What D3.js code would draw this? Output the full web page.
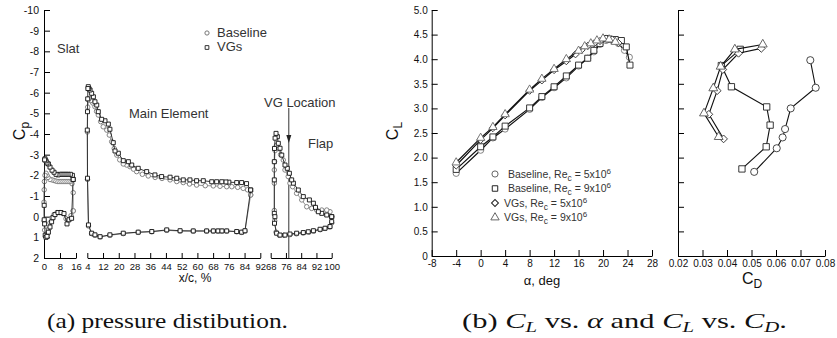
<!DOCTYPE html>
<html>
<head>
<meta charset="utf-8">
<script src="https://cdn.jsdelivr.net/npm/d3@7"></script>
<style>
  body { margin: 0; background: #fff; }
</style>
</head>
<body>
<script>
const width = 837;
const height = 338;

// ---- (a) pressure distribution, [x/c %, Cp] ----
const slatBaseline = [[14.6,-0.28],[14.6,-1.16],[14,-1.6],[13,-1.7],[12,-1.7],[11,-1.7],[10,-1.7],[9,-1.7],[8,-1.7],[7,-1.7],[6,-1.72],[5,-1.75],[4,-1.78],[3,-1.8],[2,-1.9],[1.5,-2.0],[1,-2.1],[0.5,-2.0],[0.2,-1.7],[0.1,-1.3],[0,-0.7],[0.1,0.2],[0.3,0.65],[0.8,0.95],[1.5,0.9],[2.3,0.6],[3,0.3],[4,0.05],[5,-0.1],[6.5,-0.2],[8,-0.2],[9.5,-0.15],[11,0.1],[12.3,0.15],[13.5,-0.05],[14.6,-0.28]];
const slatVGs = [[14.6,-1.8],[14.2,-2.0],[13.2,-2.05],[12,-2.05],[11,-2.05],[10,-2.05],[9,-2.05],[8,-2.05],[7,-2.02],[6,-2.05],[5,-2.15],[4,-2.25],[3,-2.4],[2.2,-2.55],[1.5,-2.6],[1,-2.7],[0.5,-2.8],[0.3,-2.75],[0.1,-0.55],[0.1,0.15],[0.3,0.35],[0.6,0.9],[1.0,1.0],[1.5,0.95],[2.2,0.75],[3,0.5],[3.8,0.25],[4.5,0.05],[5.5,-0.1],[7,-0.2],[8.5,-0.2],[10,-0.15],[11.5,0.35],[12.5,0.15],[13.8,0.08],[14.6,-1.8]];

const mainBaseline = [[87.1,-1.05],[85.5,-1.3],[83.3,-1.37],[80.5,-1.42],[77.5,-1.45],[74.9,-1.45],[71.5,-1.47],[68.1,-1.49],[64,-1.5],[59.6,-1.53],[56,-1.58],[52.8,-1.65],[49.5,-1.7],[46.1,-1.78],[42,-1.85],[38.5,-1.9],[35,-1.97],[32,-2.05],[29.1,-2.18],[27.5,-2.3],[25.7,-2.42],[24,-2.5],[22.3,-2.55],[20.5,-2.75],[19,-2.98],[17.7,-3.3],[16.4,-3.63],[15.2,-3.95],[13.9,-4.19],[12.1,-4.35],[10.8,-4.6],[9.6,-4.92],[8.7,-5.1],[7.9,-5.32],[6.8,-5.5],[5.8,-5.62],[5.0,-5.72],[4.5,-5.65],[4.2,-5.3],[4.05,-4.1],[4.1,-1.8],[4.6,0.45],[6.2,0.82],[7.9,0.9],[10.5,0.98],[15.5,0.9],[22.3,0.82],[29.9,0.76],[36.8,0.73],[44.4,0.66],[51.2,0.7],[57.9,0.7],[64.7,0.7],[68.1,0.7],[70.5,0.7],[72.5,0.7],[74.9,0.7],[80,0.73],[82.5,0.76],[84.2,0.7],[87.1,-1.05]];
const mainVGs = [[87.1,-1.29],[85,-1.6],[82.5,-1.65],[80,-1.65],[76,-1.67],[74.5,-1.68],[72.4,-1.69],[69.8,-1.69],[67.3,-1.69],[63,-1.74],[59.6,-1.74],[56.2,-1.78],[52.8,-1.78],[49.5,-1.86],[46.1,-1.91],[41.8,-1.94],[38.4,-2.02],[34.2,-2.18],[29.9,-2.34],[26.6,-2.5],[24.9,-2.66],[22.3,-2.71],[19.8,-3.07],[18.1,-3.18],[17.2,-3.58],[15.5,-4.23],[14.7,-4.48],[13,-4.64],[11.3,-4.71],[9.6,-5.08],[8.8,-5.4],[7.9,-5.56],[7.1,-5.8],[6.2,-5.97],[5.4,-6.13],[4.8,-6.2],[4.5,-6.29],[4.3,-6.2],[4.2,-5.7],[4.1,-5.08],[4.0,-4.19],[4.1,-1.86],[4.6,0.4],[6.2,0.8],[7.9,0.88],[10.5,0.97],[15.5,0.88],[22.3,0.8],[29.9,0.75],[36.8,0.72],[44.4,0.64],[51.2,0.68],[57.9,0.69],[64.7,0.69],[68.1,0.69],[70.5,0.69],[72.5,0.69],[74.9,0.69],[80,0.72],[82.5,0.75],[84.2,0.68],[87.1,-1.29]];

const flapBaseline = [[100,0.0],[99.1,-0.24],[97.4,-0.32],[94.8,-0.32],[92.1,-0.32],[89.5,-0.4],[86.9,-0.48],[84.3,-0.81],[81.6,-1.13],[79.5,-1.45],[78.1,-1.62],[77.2,-1.94],[75.5,-2.26],[74.6,-2.74],[73.2,-3.0],[72,-3.3],[71,-3.45],[70.3,-3.2],[70,-2.66],[69.9,-2.26],[69.9,-1.62],[69.9,-0.3],[70.1,0.2],[70.8,0.75],[72.5,0.9],[75,0.9],[78,0.87],[81.5,0.83],[85,0.79],[88,0.75],[90.5,0.7],[94,0.63],[96.5,0.57],[99,0.5],[100,0.3],[100,0.0]];
const flapVGs = [[100,0.0],[97.4,-0.08],[94.8,-0.16],[93,-0.24],[91.5,-0.45],[90.4,-0.65],[88.3,-0.81],[85.1,-0.97],[82.5,-1.29],[79.9,-1.62],[79,-1.78],[77.8,-2.1],[76.7,-2.34],[75.5,-2.5],[73.8,-2.98],[72.9,-3.31],[72,-3.55],[71.5,-3.87],[70.8,-4.03],[70.3,-3.8],[70.0,-3.3],[69.9,-2.66],[69.9,-1.78],[69.9,-0.16],[70.2,0.0],[70.0,0.32],[71.1,0.8],[72.9,0.89],[75.5,0.89],[78.1,0.84],[81.6,0.8],[85.1,0.77],[87.7,0.73],[90.4,0.68],[93.9,0.61],[96.5,0.56],[99.1,0.48],[100,0.24],[100,0.0]];

const vgLocation = 77.5;

const cpTicks = [-10,-9,-8,-7,-6,-5,-4,-3,-2,-1,0,1,2];
const slatTicks = [0,8,16];
const mainTicks = [4,12,20,28,36,44,52,60,68,76,84,92];
const flapTicks = [68,76,84,92,100];

// ---- (b) CL vs alpha, CL vs CD ----
const baseRe5Alpha = [-4,0,2,4,8,10,12,14,16,17.5,18.5,19.5,20.5,21.5,22.5,23.5,24.3];
const baseRe5CL    = [1.68,2.15,2.4,2.58,2.98,3.22,3.42,3.62,3.86,4.02,4.15,4.3,4.38,4.38,4.32,4.18,4.04];
const baseRe9Alpha = [-4,0,2,4,8,10,12,14,16,17.5,18.5,19.5,20.5,21,22,23,23.8,24.4];
const baseRe9CL    = [1.76,2.22,2.42,2.64,3.01,3.24,3.44,3.66,3.88,4.02,4.18,4.32,4.42,4.41,4.4,4.38,4.25,3.88];
const vgRe5Alpha   = [-4,0,2,4,8,10,12,14,15.5,16.5,17.5,18.5,19.5,20.5,21.5,22.5];
const vgRe5CL      = [1.84,2.36,2.6,2.86,3.36,3.57,3.78,3.96,4.1,4.19,4.27,4.32,4.37,4.42,4.4,4.33];
const vgRe9Alpha   = [-4,0,2,4,8,10,12,14,16,17,18,19,20,21,22];
const vgRe9CL      = [1.9,2.4,2.62,2.88,3.38,3.6,3.8,4.0,4.17,4.26,4.32,4.38,4.42,4.4,4.35];

const baseRe5CD   = [0.0511,0.0603,0.0627,0.0637,0.066,0.0762,0.074];
const baseRe5CDCL = [1.71,2.19,2.41,2.58,3.0,3.42,3.98];
const baseRe9CD   = [0.0461,0.056,0.0576,0.0562,0.0418,0.0377,0.0454];
const baseRe9CDCL = [1.77,2.22,2.66,3.03,3.44,3.87,4.2];
const vgRe5CD     = [0.0386,0.0326,0.036,0.0383,0.0447,0.054];
const vgRe5CDCL   = [2.38,2.88,3.36,3.79,4.12,4.22];
const vgRe9CD     = [0.0366,0.0306,0.0344,0.0374,0.0432,0.0546];
const vgRe9CDCL   = [2.42,2.9,3.41,3.85,4.2,4.3];

const alphaTicks = [-8,-4,0,4,8,12,16,20,24,28];
const clTicks = [0,0.5,1,1.5,2,2.5,3,3.5,4,4.5,5];
const cdTicks = [0.02,0.03,0.04,0.05,0.06,0.07,0.08];

const legendRight = [
  {name: "Baseline, Re", re: "5x10", sym: "circle"},
  {name: "Baseline, Re", re: "9x10", sym: "square"},
  {name: "VGs, Re", re: "5x10", sym: "diamond"},
  {name: "VGs, Re", re: "9x10", sym: "triangle"}
];

const sansFont = "'Liberation Sans', Arial, sans-serif";
const capFont = "'Liberation Serif', 'Times New Roman', serif";

let svg = d3.select("body").append("svg").attr("width", width).attr("height", height)
  .attr("font-family", sansFont);

// scales
let cpY = d3.scaleLinear().domain([-10, 2]).range([10, 258]);
let xSlat = d3.scaleLinear().domain([0, 16]).range([44, 76]);
let xMain = d3.scaleLinear().domain([4, 92]).range([87.3, 260.3]);
let xFlap = d3.scaleLinear().domain([68, 100]).range([270.7, 331.7]);

let clY = d3.scaleLinear().domain([0, 5]).range([256, 10]);
let alphaX = d3.scaleLinear().domain([-8, 28]).range([431.7, 652]);
let cdX = d3.scaleLinear().domain([0.02, 0.08]).range([678, 825]);

function styleAxis(g, size) {
  g.attr("font-family", sansFont).attr("font-size", size);
  g.selectAll("path.domain").attr("stroke", "#000");
  g.selectAll(".tick line").attr("stroke", "#000");
  g.selectAll(".tick text").attr("fill", "#111");
}

const symbols = {
  circle: d3.symbolCircle,
  square: d3.symbolSquare,
  diamond: d3.symbolSquare,
  triangle: d3.symbolTriangle
};

function plotSeries(g, data, xs, ys, sym, size, markColor, lineColor, lineWidth)
{
  g.append("path").datum(data)
    .attr("d", d3.line().x(d => xs(d[0])).y(d => ys(d[1])))
    .attr("fill", "none")
    .attr("stroke", lineColor)
    .attr("stroke-width", lineWidth);
  g.selectAll(null).data(data).enter().append("path")
    .attr("d", d3.symbol().type(symbols[sym]).size(size))
    .attr("transform", d => `translate(${xs(d[0])},${ys(d[1])})` + (sym === "diamond" ? " rotate(45)" : ""))
    .attr("fill", "#fff")
    .attr("stroke", markColor)
    .attr("stroke-width", 0.9);
}

// ===== panel (a) =====
let ga = svg.append("g");

ga.append("g").attr("transform", "translate(44,0)")
  .call(d3.axisLeft(cpY).tickValues(cpTicks).tickSize(-6).tickSizeOuter(0).tickPadding(5).tickFormat(d => String(d)))
  .call(g => styleAxis(g, 10.5));

[[xSlat, slatTicks], [xMain, mainTicks], [xFlap, flapTicks]].forEach(([sc, tv]) => {
  ga.append("g").attr("transform", "translate(0,258)")
    .call(d3.axisBottom(sc).tickValues(tv).tickSize(-5).tickSizeOuter(0).tickPadding(5).tickFormat(d => String(d)))
    .call(g => styleAxis(g, 9.5));
});

// VG location marker
let vgx = xFlap(vgLocation);
ga.append("line").attr("x1", vgx).attr("x2", vgx).attr("y1", 108).attr("y2", 258)
  .attr("stroke", "#333").attr("stroke-width", 1);
ga.append("path")
  .attr("d", `M${vgx - 2.5},${135} L${vgx + 2.5},${135} L${vgx},${143} Z`)
  .attr("fill", "#222");

plotSeries(ga, slatBaseline, xSlat, cpY, "circle", 16, "#777", "#888", 0.9);
plotSeries(ga, mainBaseline, xMain, cpY, "circle", 16, "#777", "#888", 0.9);
plotSeries(ga, flapBaseline, xFlap, cpY, "circle", 16, "#777", "#888", 0.9);
plotSeries(ga, slatVGs, xSlat, cpY, "square", 16, "#111", "#222", 0.9);
plotSeries(ga, mainVGs, xMain, cpY, "square", 16, "#111", "#222", 0.9);
plotSeries(ga, flapVGs, xFlap, cpY, "square", 16, "#111", "#222", 0.9);

// labels (a)
const labelColor = "#333";
ga.append("text").attr("x", 57).attr("y", 53).attr("font-size", 13).attr("fill", labelColor).text("Slat");
ga.append("text").attr("x", 129).attr("y", 117.5).attr("font-size", 13).attr("fill", labelColor).text("Main Element");
ga.append("text").attr("x", 264).attr("y", 107).attr("font-size", 13).attr("fill", labelColor).text("VG Location");
ga.append("text").attr("x", 308).attr("y", 147.5).attr("font-size", 13).attr("fill", labelColor).text("Flap");

ga.append("path").attr("d", d3.symbol().type(d3.symbolCircle).size(14)).attr("transform", "translate(207,33)")
  .attr("fill", "#fff").attr("stroke", "#777");
ga.append("path").attr("d", d3.symbol().type(d3.symbolSquare).size(14)).attr("transform", "translate(207,47.5)")
  .attr("fill", "#fff").attr("stroke", "#333");
ga.append("text").attr("x", 217).attr("y", 36.5).attr("font-size", 13).attr("fill", labelColor).text("Baseline");
ga.append("text").attr("x", 217).attr("y", 51).attr("font-size", 13).attr("fill", labelColor).text("VGs");

let cpLabel = ga.append("text").attr("transform", "translate(25,131) rotate(-90)").attr("text-anchor", "middle").attr("fill", "#111");
cpLabel.append("tspan").attr("font-size", 16).text("C");
cpLabel.append("tspan").attr("font-size", 12).attr("dy", 4).text("p");

ga.append("text").attr("x", 195).attr("y", 282).attr("text-anchor", "middle").attr("font-size", 12).attr("fill", "#111").text("x/c, %");

// ===== panel (b) =====
let gb = svg.append("g");

gb.append("g").attr("transform", "translate(431.7,0)")
  .call(d3.axisLeft(clY).tickValues(clTicks).tickSize(-6).tickSizeOuter(0).tickPadding(4)
    .tickFormat(d => d === 0 ? "0" : d.toFixed(1)))
  .call(g => styleAxis(g, 10));
gb.append("g").attr("transform", "translate(0,256)")
  .call(d3.axisBottom(alphaX).tickValues(alphaTicks).tickSize(-6).tickSizeOuter(0).tickPadding(4).tickFormat(d => String(d)))
  .call(g => styleAxis(g, 10));

gb.append("g").attr("transform", "translate(678,0)")
  .call(d3.axisLeft(clY).tickValues(clTicks).tickSize(-6).tickSizeOuter(0).tickFormat(""))
  .call(g => styleAxis(g, 10));
gb.append("g").attr("transform", "translate(0,256)")
  .call(d3.axisBottom(cdX).tickValues(cdTicks).tickSize(-6).tickSizeOuter(0).tickPadding(4).tickFormat(d3.format(".2f")))
  .call(g => styleAxis(g, 10));

const zip = (a, b) => a.map((v, i) => [v, b[i]]);

plotSeries(gb, zip(baseRe5Alpha, baseRe5CL), alphaX, clY, "circle", 30, "#777", "#111", 1.2);
plotSeries(gb, zip(baseRe9Alpha, baseRe9CL), alphaX, clY, "square", 36, "#222", "#111", 1.2);
plotSeries(gb, zip(vgRe5Alpha, vgRe5CL), alphaX, clY, "diamond", 26, "#333", "#111", 1.2);
plotSeries(gb, zip(vgRe9Alpha, vgRe9CL), alphaX, clY, "triangle", 30, "#666", "#111", 1.2);

plotSeries(gb, zip(baseRe5CD, baseRe5CDCL), cdX, clY, "circle", 40, "#333", "#111", 1.1);
plotSeries(gb, zip(baseRe9CD, baseRe9CDCL), cdX, clY, "square", 40, "#222", "#111", 1.1);
plotSeries(gb, zip(vgRe5CD, vgRe5CDCL), cdX, clY, "diamond", 30, "#333", "#111", 1.1);
plotSeries(gb, zip(vgRe9CD, vgRe9CDCL), cdX, clY, "triangle", 34, "#555", "#111", 1.1);

// legend (b)
legendRight.forEach((d, i) => {
  let y = 174 + i * 14.5;
  gb.append("path").attr("d", d3.symbol().type(symbols[d.sym]).size(d.sym === "diamond" ? 24 : 30))
    .attr("transform", `translate(495,${y})` + (d.sym === "diamond" ? " rotate(45)" : ""))
    .attr("fill", "#fff").attr("stroke", d.sym === "circle" || d.sym === "triangle" ? "#666" : "#222");
  let t = gb.append("text").attr("x", d.name.startsWith("VGs") ? 504 : 508).attr("y", y + 3.5)
    .attr("font-size", 10.5).attr("fill", "#333");
  t.append("tspan").text(d.name);
  t.append("tspan").attr("font-size", 8.5).attr("dy", 3).text("c");
  t.append("tspan").attr("dy", -3).text(" = " + d.re);
  t.append("tspan").attr("font-size", 8).attr("dy", -4).text("6");
});

let clLabel = gb.append("text").attr("transform", "translate(398,131) rotate(-90)").attr("text-anchor", "middle").attr("fill", "#111");
clLabel.append("tspan").attr("font-size", 16).text("C");
clLabel.append("tspan").attr("font-size", 12).attr("dy", 4).text("L");

gb.append("text").attr("x", 542).attr("y", 285).attr("text-anchor", "middle").attr("font-size", 13).attr("fill", "#111").text("α, deg");

let cdLabel = gb.append("text").attr("x", 752).attr("y", 284).attr("text-anchor", "middle").attr("fill", "#111");
cdLabel.append("tspan").attr("font-size", 16).text("C");
cdLabel.append("tspan").attr("font-size", 12).attr("dy", 4).text("D");

// captions
svg.append("text").attr("x", 47).attr("y", 328).attr("font-family", capFont).attr("font-size", 22)
  .attr("textLength", 241).attr("lengthAdjust", "spacingAndGlyphs")
  .attr("fill", "#111").text("(a) pressure distibution.");

let capB = svg.append("text").attr("x", 462).attr("y", 328).attr("font-family", capFont).attr("font-size", 22)
  .attr("textLength", 325).attr("lengthAdjust", "spacingAndGlyphs").attr("fill", "#111");
capB.append("tspan").text("(b) ");
capB.append("tspan").attr("font-style", "italic").text("C");
capB.append("tspan").attr("font-style", "italic").attr("font-size", 15).attr("dy", 4).text("L");
capB.append("tspan").attr("dy", -4).text(" vs. ");
capB.append("tspan").attr("font-style", "italic").text("α");
capB.append("tspan").text(" and ");
capB.append("tspan").attr("font-style", "italic").text("C");
capB.append("tspan").attr("font-style", "italic").attr("font-size", 15).attr("dy", 4).text("L");
capB.append("tspan").attr("dy", -4).text(" vs. ");
capB.append("tspan").attr("font-style", "italic").text("C");
capB.append("tspan").attr("font-style", "italic").attr("font-size", 15).attr("dy", 4).text("D");
capB.append("tspan").attr("dy", -4).text(".");
</script>
</body>
</html>
